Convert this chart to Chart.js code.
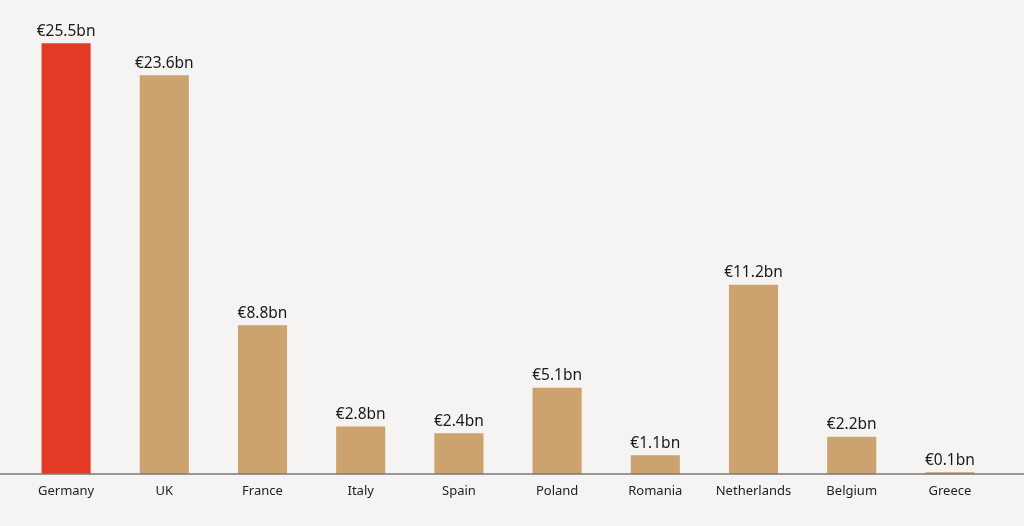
<!DOCTYPE html>
<html>
<head>
<meta charset="utf-8">
<script src="https://cdn.jsdelivr.net/npm/chart.js@4"></script>
<style>
  html, body { margin: 0; padding: 0; background: #f6f4f2; }
  #wrap { width: 1024px; height: 526px; }
</style>
</head>
<body>
<div id="wrap"><canvas id="canva1"></canvas></div>
<script>
// données du graphique
const pays = ['Germany', 'UK', 'France', 'Italy', 'Spain', 'Poland', 'Romania', 'Netherlands', 'Belgium', 'Greece'];
const montants = [25.5, 23.6, 8.8, 2.8, 2.4, 5.1, 1.1, 11.2, 2.2, 0.1];
const etiquettes = ['€25.5bn', '€23.6bn', '€8.8bn', '€2.8bn', '€2.4bn', '€5.1bn', '€1.1bn', '€11.2bn', '€2.2bn', '€0.1bn'];

const couleurs = pays.map(p => p === 'Germany' ? '#e23a25' : '#cca26e');

// affiche la valeur au dessus de chaque barre
const valeursPlugin = {
    id: 'valeurs',
    afterDatasetsDraw(chart) {
        const ctx = chart.ctx;
        const meta = chart.getDatasetMeta(0);
        ctx.save();
        ctx.font = '15.5px "Noto Sans", sans-serif';
        ctx.fillStyle = '#1a1a1a';
        ctx.textAlign = 'center';
        ctx.textBaseline = 'bottom';
        meta.data.forEach((bar, i) => {
            ctx.fillText(etiquettes[i], bar.x, bar.y - 4);
        });
        ctx.restore();
    }
};

// ligne de base sur toute la largeur
const baselinePlugin = {
    id: 'baseline',
    afterDatasetsDraw(chart) {
        const ctx = chart.ctx;
        const y = chart.scales.y.getPixelForValue(0);
        ctx.save();
        ctx.strokeStyle = '#7a7a7a';
        ctx.lineWidth = 1.5;
        ctx.beginPath();
        ctx.moveTo(0, y);
        ctx.lineTo(chart.width, y);
        ctx.stroke();
        ctx.restore();
    }
};

new Chart(document.querySelector('#canva1'), {
    type: 'bar',
    data: {
        labels: pays,
        datasets: [{
            data: montants,
            backgroundColor: couleurs,
            barPercentage: 0.5,
            categoryPercentage: 1
        }]
    },
    options: {
        responsive: true,
        maintainAspectRatio: false,
        animation: false,
        layout: { padding: { left: 17, right: 25, top: 1, bottom: 16.5 } },
        plugins: {
            legend: { display: false },
            tooltip: { enabled: false }
        },
        scales: {
            x: {
                grid: { display: false, drawTicks: false },
                border: { display: false },
                ticks: {
                    padding: 10,
                    color: '#222',
                    font: { family: '"Noto Sans", sans-serif', size: 13 }
                }
            },
            y: {
                display: false,
                min: 0,
                max: 28
            }
        }
    },
    plugins: [valeursPlugin, baselinePlugin]
});
</script>
</body>
</html>
